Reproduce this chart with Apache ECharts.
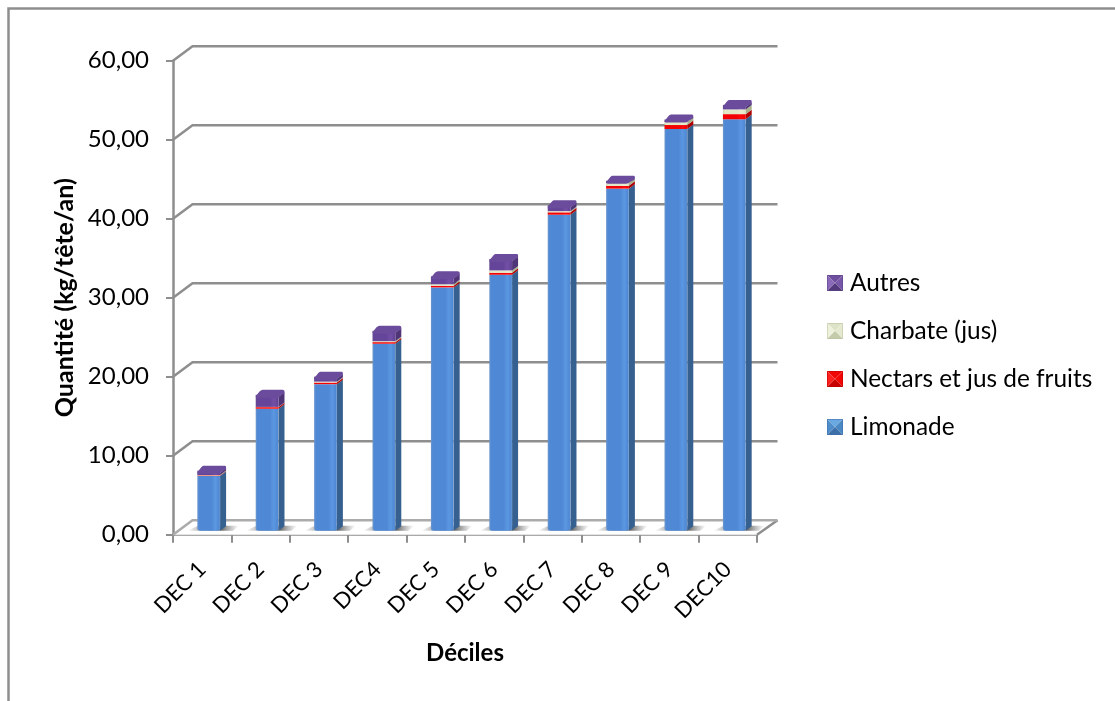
<!DOCTYPE html>
<html lang="fr">
<head>
<meta charset="utf-8">
<title>Quantité par décile</title>
<script src="https://cdn.jsdelivr.net/npm/echarts@6/dist/echarts.min.js"></script>
<style>
  html, body { margin: 0; padding: 0; background: #fff; }
  #chart { width: 1115px; height: 701px; }
</style>
</head>
<body>
<div id="chart"></div>
<script>
// Consumption per income decile, kg per head per year
const categories = ['DEC 1', 'DEC 2', 'DEC 3', 'DEC4', 'DEC 5', 'DEC 6', 'DEC 7', 'DEC 8', 'DEC 9', 'DEC10'];
const limonade = [6.92, 15.44, 18.55, 23.67, 30.8, 32.4, 40.0, 43.3, 50.85, 52.08];
const nectars  = [0.08, 0.2, 0.2, 0.2, 0.2, 0.25, 0.3, 0.35, 0.5, 0.65];
const charbate = [0.05, 0.03, 0.12, 0.12, 0.2, 0.3, 0.15, 0.4, 0.4, 0.6];
const autres   = [0.55, 1.53, 0.63, 1.31, 1.0, 1.45, 0.75, 0.25, 0.3, 0.57];
const yTicks = [0, 10, 20, 30, 40, 50, 60];

// Pseudo-3D projection used by the walls and the columns
const WALL_DX = 19.5, WALL_DY = 14.5;
const BAR_DX = 6.5, BAR_DY = 4, SIDE_DX = 6, SIDE_DY = 4.5;
const GREY = '#8e8e8e';
const FONT = 'Lato, "Noto Sans", sans-serif';

function gradient(stops) {
  return new echarts.graphic.LinearGradient(0, 0, 1, 0, stops);
}
function faceStops(edge, body, light) {
  return [
    { offset: 0, color: edge }, { offset: 0.08, color: body },
    { offset: 0.62, color: body }, { offset: 0.8, color: light },
    { offset: 0.95, color: body }, { offset: 1, color: edge }
  ];
}

const palette = {
  Limonade: { front: faceStops('#6f97cc', '#4f89d5', '#5c97e2'), side: '#36608f', top: '#5a95e0' },
  'Nectars et jus de fruits': { front: faceStops('#e60000', '#f40202', '#ff0a0a'), side: '#b00000', top: '#ff0505' },
  'Charbate (jus)': { front: faceStops('#cfd6b2', '#e2e7c6', '#e9edcf'), side: '#a9b08c', top: '#e8eccd' },
  Autres: { front: faceStops('#67498f', '#65459a', '#7350a6'), side: '#4f3577', top: '#6b4b9b' }
};

// Quarter-round corner sampled between three points, for the softened cap outline
function corner(a, b, c) {
  const pts = [];
  for (let k = 0; k <= 4; k++) {
    const t = k / 4, u = 1 - t;
    pts.push([u * u * a[0] + 2 * u * t * b[0] + t * t * c[0], u * u * a[1] + 2 * u * t * b[1] + t * t * c[1]]);
  }
  return pts;
}

// One stacked segment: side face, front face and, on the last series, the rounded cap
function segmentRenderer(name, isTop, isBottom) {
  const c = palette[name];
  return function (params, api) {
    const i = api.value(0);
    const lo = api.coord([i, api.value(1)]);
    const hi = api.coord([i, api.value(2)]);
    const w = api.size([1, 0])[0] * 0.39;
    const xl = lo[0] + BAR_DX - w / 2, xr = xl + w;
    const yb = lo[1] - BAR_DY, yt = hi[1] - BAR_DY;
    const children = [];
    const r = isBottom ? 2 : 0;
    children.push({
      type: 'polygon',
      shape: { points: [[xr, yb], [xr + SIDE_DX, yb - SIDE_DY], [xr + SIDE_DX, yt - SIDE_DY + (isTop ? 2 : 0)], [xr, yt + (isTop ? 2 : 0)]] },
      style: { fill: c.side }
    });
    const front = r
      ? [].concat(corner([xl, yb - r], [xl, yb], [xl + r + 1, yb]), corner([xr - r - 1, yb], [xr, yb], [xr, yb - r]), [[xr, yt], [xl, yt]])
      : [[xl, yb], [xr, yb], [xr, yt], [xl, yt]];
    children.push({ type: 'polygon', shape: { points: front }, style: { fill: gradient(c.front) } });
    if (isTop) {
      const backY = yt - SIDE_DY, backR = xr + SIDE_DX, backL = xl + SIDE_DX;
      const cap = [].concat(
        [[xl, yt + 1.5]],
        corner([xl + 0.2, yt + 2.5], [xl + 1, yt + 3], [xl + 3, yt + 3]),
        corner([xr - 3, yt + 3], [xr - 0.5, yt + 3], [xr + 1.5, yt + 1]),
        corner([backR - 0.5, backY + 3.5], [backR, backY + 3], [backR, backY + 1.5]),
        corner([backR, backY + 1], [backR, backY - 0.5], [backR - 2, backY - 0.5]),
        corner([backL + 1, backY - 0.5], [backL - 0.5, backY - 0.5], [backL - 2, backY + 1])
      );
      children.push({ type: 'polygon', shape: { points: cap }, style: { fill: c.top } });
    }
    return { type: 'group', children };
  };
}

// Back wall gridlines with their diagonals, plus the floor
function renderWalls(params, api) {
  const v = api.value(0);
  const y = api.coord([0, v])[1];
  const r = params.coordSys;
  const xl = r.x, xr = r.x + r.width;
  const children = [];
  if (v === 0) {
    children.push({
      type: 'polygon',
      shape: { points: [[xl, y], [xr, y], [xr + WALL_DX + 1, y - WALL_DY], [xl + WALL_DX, y - WALL_DY]] },
      style: { fill: '#ffffff' }
    });
    children.push({
      type: 'polyline',
      shape: { points: [[xr, y], [xr + WALL_DX + 1, y - WALL_DY]] },
      style: { stroke: GREY, lineWidth: 2.5, fill: null }
    });
  }
  children.push({
    type: 'polyline',
    shape: { points: [[xl, y], [xl + WALL_DX, y - WALL_DY], [xr + WALL_DX + 1, y - WALL_DY]] },
    style: { stroke: v === 0 ? '#ababab' : GREY, lineWidth: 2.5, fill: null }
  });
  return { type: 'group', children };
}

// Soft shadow cast on the floor on both sides of each column
function renderShadow(params, api) {
  const p = api.coord([api.value(0), 0]);
  const w = api.size([1, 0])[0];
  const cx = p[0] + BAR_DX + 1;
  const y = p[1] - BAR_DY;
  return {
    type: 'polygon',
    shape: { points: [[cx - w * 0.38, y], [cx + w * 0.4, y], [cx + w * 0.5, y - 5], [cx - w * 0.2, y - 5]] },
    style: {
      fill: new echarts.graphic.LinearGradient(0, 0, 1, 0, [
        { offset: 0, color: 'rgba(130,130,130,0)' },
        { offset: 0.25, color: 'rgba(130,130,130,0.6)' },
        { offset: 0.68, color: 'rgba(90,90,90,0.85)' },
        { offset: 1, color: 'rgba(130,130,130,0)' }
      ])
    }
  };
}

// Bevelled legend key: four triangles meeting at the centre
function bevelIcon(top, left, right, bottom, edge) {
  const svg = "<svg xmlns='http://www.w3.org/2000/svg' width='16' height='16'>" +
    "<polygon points='0,0 16,0 8,8' fill='" + top + "'/>" +
    "<polygon points='0,0 0,16 8,8' fill='" + left + "'/>" +
    "<polygon points='16,0 16,16 8,8' fill='" + right + "'/>" +
    "<polygon points='0,16 16,16 8,8' fill='" + bottom + "'/>" +
    "<rect x='0.5' y='0.5' width='15' height='15' fill='none' stroke='" + edge + "' stroke-opacity='.55'/></svg>";
  return 'image://data:image/svg+xml;charset=utf-8,' + encodeURIComponent(svg);
}

const seriesDefs = [
  { name: 'Limonade', values: limonade },
  { name: 'Nectars et jus de fruits', values: nectars },
  { name: 'Charbate (jus)', values: charbate },
  { name: 'Autres', values: autres }
];

let running = categories.map(() => 0);
const stackedSeries = seriesDefs.map((def, s) => {
  const data = def.values.map((v, i) => [i, running[i], running[i] + v]);
  running = running.map((t, i) => t + def.values[i]);
  return {
    name: def.name,
    type: 'custom',
    coordinateSystem: 'cartesian2d',
    renderItem: segmentRenderer(def.name, s === seriesDefs.length - 1, s === 0),
    encode: { x: 0, y: [1, 2] },
    data,
    z: 5 + s,
    silent: true,
    animation: false,
    itemStyle: { color: palette[def.name].top }
  };
});

const chart = echarts.init(document.getElementById('chart'), null, { renderer: 'canvas' });
chart.setOption({
  animation: false,
  backgroundColor: '#ffffff',
  textStyle: { fontFamily: FONT, color: '#000' },
  graphic: [{
    type: 'polyline',
    silent: true,
    z: 0,
    shape: { points: [[8.5, 701], [8.5, 8.5], [1115, 8.5]] },
    style: { stroke: GREY, lineWidth: 2.5, fill: null }
  }],
  grid: { left: 173, top: 60.7, width: 584, height: 474, containLabel: false },
  legend: {
    orient: 'vertical',
    left: 827,
    top: 271,
    padding: 0,
    itemWidth: 16,
    itemHeight: 16,
    itemGap: 24,
    selectedMode: false,
    textStyle: { fontFamily: FONT, fontSize: 24.4, color: '#000', padding: [0, 0, 0, 2] },
    data: [
      { name: 'Autres', icon: bevelIcon('#6e4f9e', '#8a6ab8', '#7857a8', '#533a7c', '#5f4488') },
      { name: 'Charbate (jus)', icon: bevelIcon('#dde3c6', '#eef2dc', '#e4e9cf', '#c3cbaa', '#b9c2a0') },
      { name: 'Nectars et jus de fruits', icon: bevelIcon('#f00808', '#ff2020', '#f40606', '#c80000', '#c00000') },
      { name: 'Limonade', icon: bevelIcon('#6aa8e2', '#4f8ecb', '#4a88c4', '#3d70a8', '#3f6fa8') }
    ]
  },
  xAxis: {
    type: 'category',
    data: categories,
    name: 'Déciles',
    nameLocation: 'middle',
    nameGap: 107,
    nameTextStyle: { fontSize: 24, fontWeight: 'bold', color: '#000', fontFamily: FONT },
    axisLine: { lineStyle: { color: GREY, width: 2.5 } },
    axisTick: { show: true, length: 8, alignWithLabel: false, lineStyle: { color: GREY, width: 2 } },
    axisLabel: { rotate: 45, fontSize: 22, color: '#000', margin: 31, interval: 0, fontFamily: FONT },
    splitLine: { show: false }
  },
  yAxis: {
    type: 'value',
    min: 0,
    max: 60,
    interval: 10,
    name: 'Quantité (kg/tête/an)',
    nameLocation: 'middle',
    nameGap: 96,
    nameTextStyle: { fontSize: 25, fontWeight: 'bold', color: '#000', fontFamily: FONT },
    axisLine: { show: true, lineStyle: { color: GREY, width: 2.5 } },
    axisTick: { show: true, length: 7, lineStyle: { color: GREY, width: 2 } },
    axisLabel: { fontSize: 24, color: '#000', margin: 24, fontFamily: FONT, formatter: v => v.toFixed(2).replace('.', ',') },
    splitLine: { show: false }
  },
  series: [
    {
      type: 'custom',
      renderItem: renderWalls,
      encode: { y: 0 },
      data: yTicks.map(v => [v]),
      silent: true,
      z: 1,
      animation: false
    },
    {
      type: 'custom',
      renderItem: renderShadow,
      encode: { x: 0 },
      data: categories.map((_, i) => [i]),
      silent: true,
      z: 2,
      animation: false
    }
  ].concat(stackedSeries)
});
</script>
</body>
</html>
